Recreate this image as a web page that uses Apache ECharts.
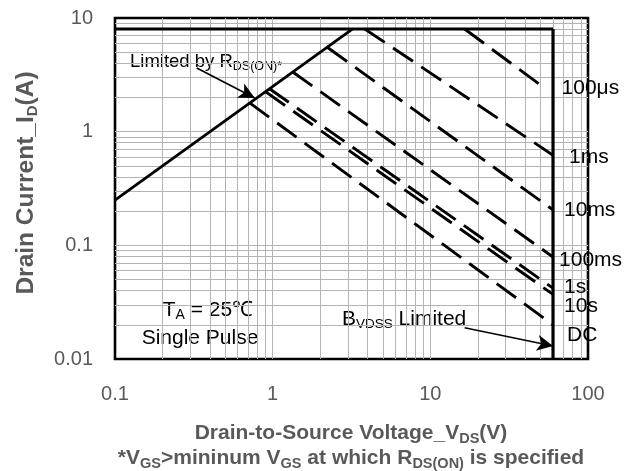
<!DOCTYPE html>
<html>
<head>
<meta charset="utf-8">
<script src="https://cdn.jsdelivr.net/npm/echarts@6/dist/echarts.min.js"></script>
<style>
  html, body { margin: 0; padding: 0; background: #fff; }
  #soa { width: 632px; height: 471px; }
</style>
</head>
<body>
<div id="soa"></div>
<script>
// safe operating area, log-log

var FONT = '"Liberation Sans", Arial, sans-serif';

// limit lines [Vds, Id]
var rdsLimit = [[0.1, 0.25], [3.2, 8]];
var idLimit = [[0.1, 8], [60, 8]];
var bvdssLimit = [[60, 8], [60, 0.01]];

// single pulse lines
var pulseNames = ['100μs', '1ms', '10ms', '100ms', '1s', '10s', 'DC'];
var pulse100us = [[16.5, 8], [53, 2.42]];
var pulse1ms = [[3.84, 8], [60, 0.62]];
var pulse10ms = [[2.23, 5.5], [60, 0.205]];
var pulse100ms = [[1.34, 3.35], [60, 0.079]];
var pulse1s = [[0.95, 2.4], [60, 0.042]];
var pulse10s = [[0.9, 2.25], [60, 0.037]];
var pulseDC = [[0.715, 1.79], [60, 0.02]];
// label offset next to each line end
var labelOffsets = [[17, 0], [16, 2], [11, 0], [6, 3], [11, -1], [11, 12], [14, 10]];

// annotation arrows
var rdsArrow = [[0.33, 3.63], [0.77, 1.98]];
var bvdssArrow = [[16.5, 0.0188], [60, 0.013]];

// minor grid
var xMinor = [], yMinor = [];
[0.1, 1, 10].forEach(function (d) {
  for (var k = 2; k <= 9; k++) xMinor.push(+(d * k).toFixed(3));
});
[0.01, 0.1, 1].forEach(function (d) {
  for (var k = 2; k <= 9; k++) yMinor.push(+(d * k).toFixed(4));
});

var myChart = echarts.init(document.getElementById('soa'));

var pulses = [pulse100us, pulse1ms, pulse10ms, pulse100ms, pulse1s, pulse10s, pulseDC];

var series = [];

// grid lines
series.push({
  type: 'line',
  data: [],
  z: 1,
  silent: true,
  markLine: {
    silent: true,
    z: 1,
    symbol: 'none',
    animation: false,
    label: { show: false },
    lineStyle: { color: '#b4b4b4', width: 1, type: 'solid' },
    emphasis: { disabled: true },
    data: xMinor.map(function (v) { return { xAxis: v }; })
      .concat(yMinor.map(function (v) { return { yAxis: v }; }))
  }
});

[rdsLimit, idLimit, bvdssLimit].forEach(function (d, i) {
  series.push({
    type: 'line',
    data: d,
    z: 3,
    symbol: 'none',
    silent: true,
    lineStyle: { color: '#000', width: i == 2 ? 3.2 : 2.8 }
  });
});

pulses.forEach(function (d, i) {
  series.push({
    name: pulseNames[i],
    type: 'line',
    data: d,
    z: 3,
    symbol: 'none',
    silent: true,
    lineStyle: { color: '#000', width: 2.9, type: [24, 10] },
    endLabel: {
      show: true,
      formatter: pulseNames[i],
      distance: 0,
      offset: labelOffsets[i],
      fontFamily: FONT,
      fontSize: 21,
      color: '#000'
    }
  });
});

// arrows
series.push({
  type: 'line',
  data: [],
  z: 4,
  markLine: {
    silent: true,
    z: 6,
    animation: false,
    symbol: ['none', 'arrow'],
    symbolSize: [12, 16],
    label: { show: false },
    lineStyle: { color: '#000', width: 1.6, type: 'solid' },
    data: [
      [{ coord: rdsArrow[0] }, { coord: rdsArrow[1] }],
      [{ coord: bvdssArrow[0] }, { coord: bvdssArrow[1] }]
    ]
  }
});

var sub = function (size) {
  return { fontSize: size, fontFamily: FONT, lineHeight: size, verticalAlign: 'bottom', fill: '#000' };
};

var option = {
  animation: false,
  grid: {
    left: 115, right: 44, top: 18, bottom: 112,
    show: true,
    borderColor: '#000',
    borderWidth: 2.6
  },
  xAxis: {
    type: 'log',
    logBase: 10,
    min: 0.1,
    max: 100,
    axisLine: { show: false },
    axisTick: { show: false },
    axisLabel: { fontFamily: FONT, fontSize: 20, color: '#595959', margin: 25 },
    splitLine: { show: true, showMinLine: false, showMaxLine: false, lineStyle: { color: '#b4b4b4', width: 1 } }
  },
  yAxis: {
    type: 'log',
    logBase: 10,
    min: 0.01,
    max: 10,
    axisLine: { show: false },
    axisTick: { show: false },
    axisLabel: { fontFamily: FONT, fontSize: 20, color: '#595959', margin: 22 },
    splitLine: { show: true, showMinLine: false, showMaxLine: false, lineStyle: { color: '#b4b4b4', width: 1 } }
  },
  graphic: [
    {
      type: 'text', x: 26, y: 183, rotation: Math.PI / 2, silent: true,
      style: {
        text: '{a|Drain Current_I}{s|D}{a|(A)}',
        align: 'center', verticalAlign: 'middle',
        rich: {
          a: { fontSize: 24.5, fontWeight: 'bold', fontFamily: FONT, lineHeight: 28, fill: '#595959' },
          s: { fontSize: 15, fontWeight: 'bold', fontFamily: FONT, lineHeight: 15, verticalAlign: 'bottom', fill: '#595959' }
        }
      }
    },
    {
      type: 'text', x: 351, y: 446, silent: true,
      style: {
        text: '{a|Drain-to-Source Voltage_V}{s|DS}{a|(V)}\n{a|*V}{s|GS}{a|>mininum V}{s|GS}{a| at which R}{s|DS(ON)}{a| is specified}',
        align: 'center', verticalAlign: 'middle',
        rich: {
          a: { fontSize: 21, fontWeight: 'bold', fontFamily: FONT, lineHeight: 25, fill: '#595959' },
          s: { fontSize: 14.5, fontWeight: 'bold', fontFamily: FONT, lineHeight: 14.5, verticalAlign: 'bottom', fill: '#595959' }
        }
      }
    },
    {
      type: 'text', x: 130, y: 62, silent: true,
      style: {
        text: '{a|Limited by R}{s|DS(ON)*}',
        align: 'left', verticalAlign: 'middle',
        rich: {
          a: { fontSize: 18.5, fontFamily: FONT, lineHeight: 22, fill: '#000' },
          s: sub(12.5)
        }
      }
    },
    {
      type: 'text', x: 208, y: 310, silent: true,
      style: {
        text: '{a|T}{s|A}{a| = 25℃}',
        align: 'center', verticalAlign: 'middle',
        rich: {
          a: { fontSize: 21, fontFamily: FONT, lineHeight: 25, fill: '#000' },
          s: sub(14)
        }
      }
    },
    {
      type: 'text', x: 200, y: 338, silent: true,
      style: {
        text: 'Single Pulse',
        align: 'center', verticalAlign: 'middle',
        font: '21px ' + FONT, fill: '#000'
      }
    },
    {
      type: 'text', x: 342, y: 319, silent: true,
      style: {
        text: '{a|B}{s|VDSS}{a| Limited}',
        align: 'left', verticalAlign: 'middle',
        rich: {
          a: { fontSize: 21, fontFamily: FONT, lineHeight: 25, fill: '#000' },
          s: sub(13.5)
        }
      }
    }
  ],
  series: series
};

myChart.setOption(option);
</script>
</body>
</html>
